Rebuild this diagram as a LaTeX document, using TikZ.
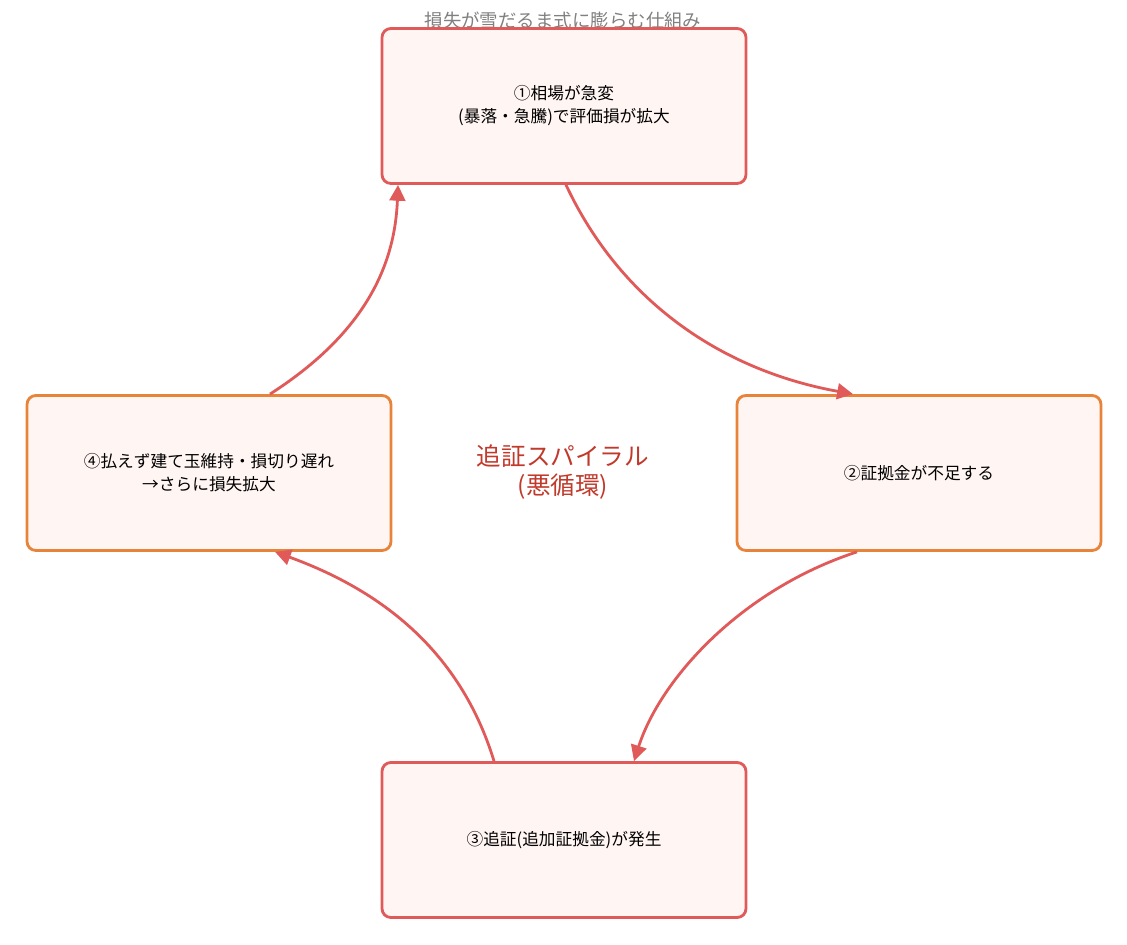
\documentclass[tikz,border=0pt]{standalone}
\usepackage{fontspec}
\setmainfont{Noto Sans CJK JP}
\usetikzlibrary{arrows.meta}
\definecolor{lossred}{HTML}{E05A5A}
\definecolor{warnorange}{HTML}{E8843A}
\definecolor{boxfill}{HTML}{FFF5F3}
\definecolor{spiralred}{HTML}{C0392B}
\begin{document}
\begin{tikzpicture}[x=0.02cm,y=-0.02cm]
		\tikzstyle{stage}=[draw=lossred,fill=boxfill,line width=1.6pt,rounded corners=5pt,minimum width=7.28cm,minimum height=3.1cm,align=center,font=\fontsize{9.5}{13}\selectfont]
		\tikzstyle{warn}=[stage,draw=warnorange]
		\tikzstyle{flow}=[draw=lossred,line width=1.6pt,-{Triangle[length=9pt,width=9pt]}]
		\useasboundingbox (0,0) rectangle (1127,945);

		\node[text=gray,font=\fontsize{10.5}{13}\selectfont] (title) at (563,20) {損失が雪だるま式に膨らむ仕組み};
		\node[stage] (rate) at (564,106) {①相場が急変\\(暴落・急騰)で評価損が拡大};
		\node[warn] (margin) at (919,473) {②証拠金が不足する};
		\node[stage] (call) at (564,840) {③追証(追加証拠金)が発生};
		\node[warn] (hold) at (209,473) {④払えず建て玉維持・損切り遅れ\\→さらに損失拡大};
		\node[text=spiralred,align=center,font=\fontsize{14}{17}\selectfont] (spiral) at (563,472) {追証スパイラル\\(悪循環)};

		\draw[flow] ([xshift=0.04cm]rate.south) .. controls (620,300) and (720,370) .. ([xshift=-1.32cm]margin.north);
		\draw[flow] ([xshift=-1.24cm]margin.south) .. controls (740,590) and (660,680) .. ([xshift=1.4cm]call.north);
		\draw[flow] ([xshift=-1.4cm]call.north) .. controls (460,650) and (380,590) .. ([xshift=1.32cm]hold.south);
		\draw[flow] ([xshift=1.22cm]hold.north) .. controls (370,330) and (395,260) .. ([xshift=-3.32cm]rate.south);
\end{tikzpicture}
\end{document}
